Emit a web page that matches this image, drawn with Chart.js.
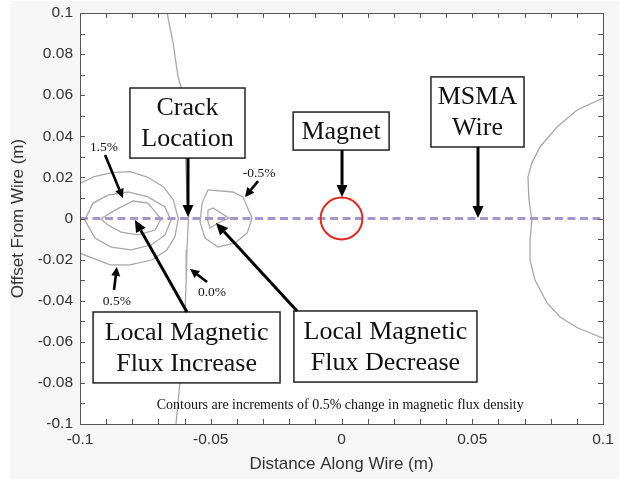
<!DOCTYPE html>
<html><head><meta charset="utf-8">
<script src="https://cdn.jsdelivr.net/npm/chart.js@4.4.0/dist/chart.umd.min.js"></script>
<style>html,body{margin:0;padding:0;background:#fff;}</style>
</head><body>
<canvas id="c" width="621" height="479"></canvas>
<script>
// ---- tick labels ----
const xTickValues = [-0.1, -0.05, 0, 0.05, 0.1];
const xTickLabels = ['-0.1', '-0.05', '0', '0.05', '0.1'];
const yTickValues = [-0.1, -0.08, -0.06, -0.04, -0.02, 0, 0.02, 0.04, 0.06, 0.08, 0.1];
const yTickLabels = ['-0.1', '-0.08', '-0.06', '-0.04', '-0.02', '0', '0.02', '0.04', '0.06', '0.08', '0.1'];

// ---- contour lines (x, y in metres) ----
const c15X = [-0.0920, -0.0866, -0.0797, -0.0740, -0.0690, -0.0713, -0.0778, -0.0843, -0.0893, -0.0920];
const c15Y = [-0.0002, 0.0041, 0.0085, 0.0075, -0.0003, -0.0056, -0.0080, -0.0066, -0.0032, -0.0002];
const c10X = [-0.0982, -0.0950, -0.0893, -0.0816, -0.0740, -0.0675, -0.0652, -0.0675, -0.0728, -0.0805, -0.0881, -0.0943, -0.0982];
const c10Y = [-0.0007, 0.0075, 0.0114, 0.0129, 0.0105, 0.0056, -0.0007, -0.0080, -0.0129, -0.0153, -0.0139, -0.0095, -0.0007];
const c05X = [-0.1000, -0.0949, -0.0879, -0.0809, -0.0745, -0.0681, -0.0643, -0.0624, -0.0637, -0.0668, -0.0726, -0.0809, -0.0885, -0.0949, -0.1000];
const c05Y = [0.0171, 0.0203, 0.0223, 0.0228, 0.0203, 0.0155, 0.0090, 0.0000, -0.0089, -0.0153, -0.0202, -0.0226, -0.0226, -0.0194, -0.0169];
const c00aX = [-0.0667, -0.0644, -0.0625, -0.0614, -0.0598, -0.0591, -0.0583, -0.0587, -0.0591, -0.0594, -0.0598, -0.0610, -0.0618, -0.0633];
const c00aY = [0.1000, 0.0854, 0.0689, 0.0640, 0.0382, 0.0105, 0.0041, -0.0041, -0.0153, -0.0299, -0.0445, -0.0640, -0.0800, -0.1000];
const cm05X = [-0.0511, -0.0415, -0.0377, -0.0342, -0.0361, -0.0407, -0.0472, -0.0522, -0.0541, -0.0533, -0.0511];
const cm05Y = [0.0139, 0.0129, 0.0105, 0.0002, -0.0071, -0.0119, -0.0139, -0.0095, -0.0017, 0.0075, 0.0139];
const cm10X = [-0.0511, -0.0491, -0.0430, -0.0472, -0.0503, -0.0514, -0.0511];
const cm10Y = [0.0041, 0.0051, 0.0002, -0.0022, -0.0046, 0.0002, 0.0041];
const c00bX = [0.1000, 0.0901, 0.0824, 0.0759, 0.0728, 0.0713, 0.0717, 0.0728, 0.0721, 0.0721, 0.0740, 0.0786, 0.0836, 0.0904, 0.1000];
const c00bY = [0.0586, 0.0528, 0.0445, 0.0348, 0.0270, 0.0202, 0.0090, -0.0007, -0.0105, -0.0202, -0.0299, -0.0411, -0.0479, -0.0533, -0.0582];
const wireX = [-0.1, 0.1];
const wireY = [0, 0];
const magnetX = 0, magnetY = 0;

function pts(xs, ys) { return xs.map((x, i) => ({x: x, y: ys[i]})); }

const contourStyle = {showLine: true, pointRadius: 0, borderColor: '#a8a8a8', borderWidth: 1.3, tension: 0, fill: false, order: 2};
const datasets = [
  {label: 'wire', data: pts(wireX, wireY), showLine: true, pointRadius: 0, borderColor: '#a597cb', borderWidth: 3, borderDash: [8, 4.5], order: 1},
  Object.assign({label: '1.5%', data: pts(c15X, c15Y)}, contourStyle),
  Object.assign({label: '1.0%', data: pts(c10X, c10Y)}, contourStyle),
  Object.assign({label: '0.5%', data: pts(c05X, c05Y)}, contourStyle),
  Object.assign({label: '0.0% a', data: pts(c00aX, c00aY)}, contourStyle),
  Object.assign({label: '-0.5%', data: pts(cm05X, cm05Y)}, contourStyle),
  Object.assign({label: '-1.0%', data: pts(cm10X, cm10Y)}, contourStyle),
  Object.assign({label: '0.0% b', data: pts(c00bX, c00bY)}, contourStyle)
];

// ---- annotation layout (data coordinates) ----
const boxes = [
  {x1: -0.0809, x2: -0.0369, y1: 0.0635, y2: 0.0294, lines: ['Crack', 'Location']},
  {x1: -0.0185, x2: 0.0182, y1: 0.0518, y2: 0.0333, lines: ['Magnet']},
  {x1: 0.0342, x2: 0.0698, y1: 0.0689, y2: 0.0348, lines: ['MSMA', 'Wire']},
  {x1: -0.0950, x2: -0.0235, y1: -0.0455, y2: -0.0800, lines: ['Local Magnetic', 'Flux Increase']},
  {x1: -0.0182, x2: 0.0518, y1: -0.0450, y2: -0.0796, lines: ['Local Magnetic', 'Flux Decrease']}
];
const bigArrows = [
  [-0.0587, 0.0294, -0.0587, 0.0007],
  [0.0002, 0.0333, 0.0002, 0.0105],
  [0.0522, 0.0348, 0.0522, 0.0002],
  [-0.0591, -0.0455, -0.0790, -0.0007],
  [-0.0170, -0.0450, -0.0480, -0.0022]
];
const smallLabels = [
  {x: -0.0908, y: 0.0348, t: '1.5%'},
  {x: -0.0315, y: 0.0221, t: '-0.5%'},
  {x: -0.0859, y: -0.0406, t: '0.5%'},
  {x: -0.0495, y: -0.0358, t: '0.0%'}
];
const smallArrows = [
  [-0.0904, 0.0309, -0.0836, 0.0100],
  [-0.0319, 0.0182, -0.0369, 0.0105],
  [-0.0870, -0.0348, -0.0859, -0.0236],
  [-0.0514, -0.0309, -0.0579, -0.0246]
];
const note = {x: -0.0005, y: -0.0908, t: 'Contours are increments of 0.5% change in magnetic flux density'};

function arrow(ctx, x1, y1, x2, y2, head, hw, lw) {
  const a = Math.atan2(y2 - y1, x2 - x1);
  const bx = x2 - head * Math.cos(a), by = y2 - head * Math.sin(a);
  ctx.strokeStyle = '#000'; ctx.fillStyle = '#000'; ctx.lineWidth = lw; ctx.lineCap = 'butt';
  ctx.beginPath(); ctx.moveTo(x1, y1); ctx.lineTo(bx, by); ctx.stroke();
  ctx.beginPath(); ctx.moveTo(x2, y2);
  ctx.lineTo(bx - hw * Math.sin(a), by + hw * Math.cos(a));
  ctx.lineTo(bx + hw * Math.sin(a), by - hw * Math.cos(a));
  ctx.closePath(); ctx.fill();
}

const bgPlugin = {
  id: 'bg',
  beforeDraw(chart) {
    const ctx = chart.ctx, a = chart.chartArea;
    ctx.save();
    ctx.fillStyle = '#ffffff'; ctx.fillRect(0, 0, chart.width, chart.height);
    ctx.fillStyle = '#f6f6f6'; ctx.fillRect(10, 1, chart.width - 12, chart.height - 1);
    ctx.fillStyle = '#ffffff'; ctx.fillRect(a.left, a.top, a.right - a.left, a.bottom - a.top);
    ctx.restore();
  }
};

const annPlugin = {
  id: 'ann',
  afterDatasetsDraw(chart) {
    const ctx = chart.ctx, xs = chart.scales.x, ys = chart.scales.y;
    const X = v => xs.getPixelForValue(v), Y = v => ys.getPixelForValue(v);
    ctx.save();
    const r = X(magnetX + 0.008) - X(magnetX);
    ctx.strokeStyle = '#e8281e'; ctx.lineWidth = 2;
    ctx.beginPath(); ctx.arc(X(magnetX), Y(magnetY), r, 0, Math.PI * 2); ctx.stroke();
    boxes.forEach(b => {
      const l = X(b.x1), rr = X(b.x2), t = Y(b.y1), bt = Y(b.y2);
      ctx.fillStyle = '#fff'; ctx.fillRect(l, t, rr - l, bt - t);
      ctx.strokeStyle = '#222'; ctx.lineWidth = 1.5; ctx.strokeRect(l, t, rr - l, bt - t);
      ctx.fillStyle = '#111'; ctx.font = '26px "Liberation Serif", "Times New Roman", serif';
      ctx.textAlign = 'center'; ctx.textBaseline = 'middle';
      const cx = (l + rr) / 2, cy = (t + bt) / 2;
      const n = b.lines.length;
      b.lines.forEach((s, i) => ctx.fillText(s, cx, cy + (i - (n - 1) / 2) * 31 + 1));
    });
    bigArrows.forEach(p => arrow(ctx, X(p[0]), Y(p[1]), X(p[2]), Y(p[3]), 12, 5.5, 3));
    smallArrows.forEach(p => arrow(ctx, X(p[0]), Y(p[1]), X(p[2]), Y(p[3]), 9, 4.5, 2.6));
    ctx.fillStyle = '#111'; ctx.textAlign = 'center'; ctx.textBaseline = 'middle';
    ctx.font = '13.5px "Liberation Serif", "Times New Roman", serif';
    smallLabels.forEach(s => ctx.fillText(s.t, X(s.x), Y(s.y)));
    ctx.font = '14px "Liberation Serif", "Times New Roman", serif';
    ctx.fillText(note.t, X(note.x), Y(note.y));
    ctx.restore();
  },
  afterDraw(chart) {
    const ctx = chart.ctx, a = chart.chartArea, xs = chart.scales.x, ys = chart.scales.y;
    ctx.save();
    ctx.strokeStyle = '#555'; ctx.lineWidth = 1;
    ctx.strokeRect(Math.round(a.left) + 0.5, Math.round(a.top) + 0.5, Math.round(a.right - a.left), Math.round(a.bottom - a.top));
    ctx.beginPath();
    for (let i = -10; i <= 10; i++) {
      const px = Math.round(xs.getPixelForValue(i / 100)) + 0.5;
      ctx.moveTo(px, a.bottom); ctx.lineTo(px, a.bottom - 5);
      ctx.moveTo(px, a.top); ctx.lineTo(px, a.top + 5);
      const py = Math.round(ys.getPixelForValue(i / 100)) + 0.5;
      ctx.moveTo(a.left, py); ctx.lineTo(a.left + 5, py);
      ctx.moveTo(a.right, py); ctx.lineTo(a.right - 5, py);
    }
    ctx.stroke();
    // tick labels
    ctx.fillStyle = '#333';
    ctx.font = '15.5px "Liberation Sans", Arial, sans-serif';
    ctx.textAlign = 'center'; ctx.textBaseline = 'middle';
    xTickValues.forEach((v, i) => ctx.fillText(xTickLabels[i], xs.getPixelForValue(v), a.bottom + 16));
    ctx.textAlign = 'right';
    yTickValues.forEach((v, i) => ctx.fillText(yTickLabels[i], a.left - 7, ys.getPixelForValue(v)));
    ctx.restore();
  }
};

const titleFont = {family: '"Liberation Sans", Arial, sans-serif', size: 17};

new Chart(document.getElementById('c'), {
  type: 'scatter',
  data: {datasets: datasets},
  options: {
    responsive: false,
    animation: false,
    layout: {padding: {left: 0, top: 13, right: 18, bottom: 0}},
    plugins: {legend: {display: false}, tooltip: {enabled: false}},
    scales: {
      x: {
        type: 'linear', min: -0.1, max: 0.1,
        afterFit: s => { s.height = 55; },
        grid: {display: false, drawTicks: false},
        border: {display: false},
        ticks: {display: false},
        title: {display: true, text: 'Distance Along Wire (m)', color: '#333', font: titleFont, padding: {top: 0, bottom: 4}}
      },
      y: {
        type: 'linear', min: -0.1, max: 0.1,
        afterFit: s => { s.width = 80; },
        grid: {display: false, drawTicks: false},
        border: {display: false},
        ticks: {display: false},
        title: {display: true, text: 'Offset From Wire (m)', color: '#333', font: titleFont, padding: {top: 8, bottom: 0}}
      }
    }
  },
  plugins: [bgPlugin, annPlugin]
});
</script>
</body></html>
